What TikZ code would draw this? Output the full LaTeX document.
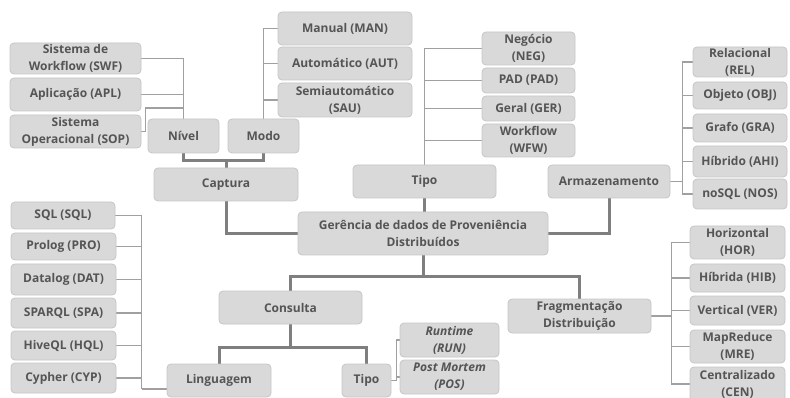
\documentclass[tikz,border=0pt]{standalone}
\usepackage{fontspec}
\setmainfont{Open Sans}
\usetikzlibrary{backgrounds}
\definecolor{boxfill}{HTML}{D9D9D9}
\definecolor{boxline}{HTML}{C6C6C6}
\definecolor{txt}{HTML}{555555}
\definecolor{thinc}{HTML}{A0A0A0}
\definecolor{thickc}{HTML}{7F7F7F}
\tikzset{
 box/.style={draw=boxline, fill=boxfill, rounded corners=4pt, line width=0.8pt, inner sep=0pt, align=center, font=\fontsize{12}{17}\selectfont\bfseries, text=txt},
 thinline/.style={draw=thinc, line width=1.1pt},
 thickline/.style={draw=thickc, line width=3pt},
}
\newcommand\bx[6]{\node[box, minimum width={(#4)-(#2)}, minimum height={(#5)-(#3)}] (#1) at ({((#2)+(#4))/2},{((#3)+(#5))/2}) {#6};}
\begin{document}
\begin{tikzpicture}[x=1pt,y=-1pt]
\useasboundingbox (0,0) rectangle (790,398);
\bx{swf}{10}{43}{141}{74}{Sistema de\\Workflow (SWF)}
\bx{apl}{10}{78}{141}{111}{Aplicação (APL)}
\bx{sop}{10}{115}{141}{148}{Sistema\\Operacional (SOP)}
\bx{nivel}{148}{119}{219}{153}{Nível}
\bx{modo}{228}{119}{299}{153}{Modo}
\bx{captura}{154}{168}{298}{201}{Captura}
\bx{man}{278}{12}{412}{45}{Manual (MAN)}
\bx{aut}{278}{47}{412}{80}{Automático (AUT)}
\bx{sau}{278}{83}{412}{117}{Semiautomático\\(SAU)}
\bx{neg}{482}{32}{575}{65}{Negócio\\(NEG)}
\bx{pad}{482}{68}{575}{93}{PAD (PAD)}
\bx{ger}{482}{96}{575}{121}{Geral (GER)}
\bx{wfw}{482}{124}{575}{157}{Workflow\\(WFW)}
\bx{tipo}{353}{165}{496}{198}{Tipo}
\bx{arm}{548}{165}{670}{198}{Armazenamento}
\bx{rel}{693}{47}{787}{77}{Relacional\\(REL)}
\bx{obj}{693}{82}{787}{109}{Objeto (OBJ)}
\bx{gra}{693}{114}{787}{142}{Grafo (GRA)}
\bx{ahi}{693}{146}{787}{177}{Híbrido (AHI)}
\bx{nos}{693}{179}{787}{209}{noSQL (NOS)}
\bx{sql}{11}{202}{115}{229}{SQL (SQL)}
\bx{pro}{11}{233}{116}{260}{Prolog (PRO)}
\bx{dat}{11}{264}{116}{295}{Datalog (DAT)}
\bx{spa}{11}{298}{116}{328}{SPARQL (SPA)}
\bx{hql}{11}{331}{116}{360}{HiveQL (HQL)}
\bx{cyp}{11}{363}{116}{393}{Cypher (CYP)}
\bx{ling}{167}{364}{271}{397}{Linguagem}
\bx{cons}{219}{291}{362}{324}{Consulta}
\bx{tipob}{342}{364}{391}{397}{Tipo}
\bx{gdp}{298}{212}{548}{255}{Gerência de dados de Proveniência\\Distribuídos}
\bx{run}{400}{323}{499}{357}{\itshape Runtime\\\itshape (RUN)}
\bx{pos}{400}{360}{499}{394}{\itshape Post Mortem\\\itshape (POS)}
\bx{frag}{508}{299}{651}{333}{Fragmentação\\Distribuição}
\bx{hor}{690}{226}{785}{259}{Horizontal\\(HOR)}
\bx{hib}{690}{264}{785}{292}{Híbrida (HIB)}
\bx{ver}{690}{296}{785}{325}{Vertical (VER)}
\bx{mre}{690}{330}{785}{363}{MapReduce\\(MRE)}
\bx{cen}{690}{367}{785}{401}{Centralizado\\(CEN)}
\begin{pgfonlayer}{background}
% thin connectors
\draw[thinline] (swf.east) -| (nivel.north);
\draw[thinline] (apl.east) -| (nivel.north);
\draw[thinline] (sop.east) -- ++(4,0) -- ++(0,-23.5) -| (nivel.north);
\foreach \n in {man,aut,sau} \draw[thinline] (\n.west) -| (modo.north);
\foreach \n in {neg,pad,ger,wfw} \draw[thinline] (\n.west) -| (tipo.north);
\draw[thinline] (arm.east) -- ++(12,0) coordinate (ab);
\foreach \n in {rel,obj,gra,ahi,nos} \draw[thinline] (\n.west) -| (ab);
\draw[thinline] (frag.east) -- ++(20,0) coordinate (fb);
\foreach \n in {hor,hib,ver,mre,cen} \draw[thinline] (\n.west) -| (fb);
\draw[thinline] ([yshift=-8.5pt]ling.west) -- ++(-25,0) coordinate (lb);
\foreach \n in {sql,pro,dat,spa,hql,cyp} \draw[thinline] (\n.east) -| (lb);
\draw[thinline] (tipob.east) -- ++(5,0) coordinate (tb);
\foreach \n in {run,pos} \draw[thinline] (\n.west) -| (tb);
% thick connectors
\draw[thickline] (nivel.south) -- ++(0,7) -| (modo.south);
\draw[thickline] (captura.north) -- ++(0,-8);
\draw[thickline] (captura.south) |- (gdp.west);
\draw[thickline] (tipo.south) -- (tipo.south |- gdp.north);
\draw[thickline] (arm.south) |- (gdp.east);
\draw[thickline] (gdp.south) -- ++(0,21) coordinate (gj);
\draw[thickline] (cons.north) |- (gj) -| (frag.north);
\draw[thickline] (cons.south) -- ++(0,23) coordinate (cj);
\draw[thickline] (ling.north) |- (cj) -| (tipob.north);
\end{pgfonlayer}
\end{tikzpicture}
\end{document}
